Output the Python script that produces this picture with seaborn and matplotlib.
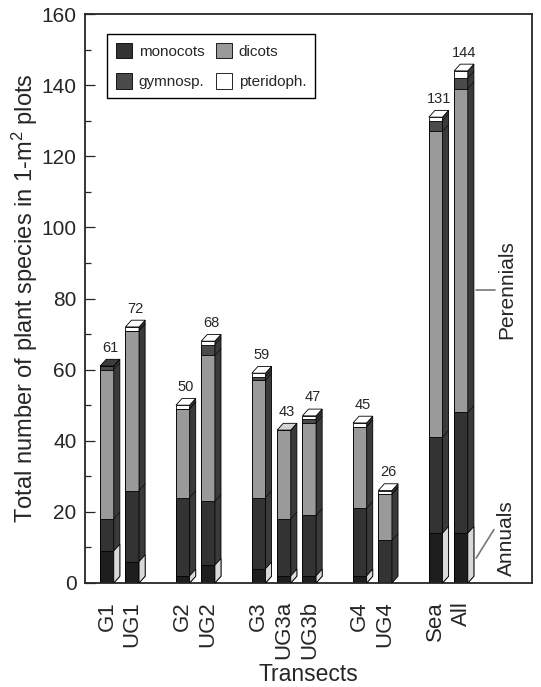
import matplotlib
matplotlib.use("Agg")
import matplotlib.pyplot as plt
from matplotlib.patches import Polygon, Patch
import numpy as np
import pandas as pd
import seaborn as sns

# species counts per transect (stack order bottom -> top)
transects = ['G1', 'UG1', 'G2', 'UG2', 'G3', 'UG3a', 'UG3b', 'G4', 'UG4', 'Sea', 'All']
positions = [0, 1, 3, 4, 6, 7, 8, 10, 11, 13, 14]
annuals = [9, 6, 2, 5, 4, 2, 2, 2, 0, 14, 14]
monocots = [9, 20, 22, 18, 20, 16, 17, 19, 12, 27, 34]
dicots = [42, 45, 25, 41, 33, 25, 26, 23, 13, 86, 91]
gymnosp = [1, 0, 0, 3, 1, 0, 1, 0, 0, 3, 3]
pteridoph = [0, 1, 1, 1, 1, 0, 1, 1, 1, 1, 2]

sns.set_style("ticks")
plt.rcParams['font.family'] = ['Liberation Sans', 'DejaVu Sans']
plt.rcParams['mathtext.default'] = 'regular'

layers = [
    ('annuals', annuals, '#1e1e1e', '#1e1e1e'),
    ('monocots', monocots, '#333333', '#333333'),
    ('dicots', dicots, '#9a9a9a', '#d4d4d4'),
    ('gymnosp.', gymnosp, '#4a4a4a', '#3c3c3c'),
    ('pteridoph.', pteridoph, '#ffffff', '#ffffff'),
]
cum = np.cumsum([l[1] for l in layers], axis=0)
totals = cum[-1]

fig = plt.figure(figsize=(5.41, 6.87), dpi=100)
ax = fig.add_axes([0.157, 0.1514, 0.826, 0.8282])

bar_w = 0.54
# front faces: draw cumulative heights from top layer down
for k in range(len(layers) - 1, -1, -1):
    df = pd.DataFrame({'pos': positions, 'value': cum[k]})
    sns.barplot(data=df, x='pos', y='value', native_scale=True, width=bar_w,
                color=layers[k][2], saturation=1, edgecolor='black',
                linewidth=0.6, errorbar=None, ax=ax, zorder=2)

# 3d side / top faces
dx, dy = 0.24, 1.9
for i, p in enumerate(positions):
    x1 = p + bar_w / 2
    top = totals[i]
    ax.add_patch(Polygon([(x1, 0), (x1 + dx, dy), (x1 + dx, top + dy), (x1, top)],
                         closed=True, fc='#3a3a3a', ec='black', lw=0.6, zorder=3))
    if annuals[i] > 0:
        a = annuals[i]
        ax.add_patch(Polygon([(x1, 0), (x1 + dx, dy), (x1 + dx, a + dy), (x1, a)],
                             closed=True, fc='#d9d9d9', ec='black', lw=0.6, zorder=3))
    for c in cum[1:-1, i]:
        ax.plot([x1, x1 + dx], [c, c + dy], color='black', lw=0.4, zorder=3)
    k_top = max(k for k in range(len(layers)) if layers[k][1][i] > 0)
    ax.add_patch(Polygon([(x1 - bar_w, top), (x1, top), (x1 + dx, top + dy), (x1 - bar_w + dx, top + dy)],
                         closed=True, fc=layers[k_top][3], ec='black', lw=0.6, zorder=3))
    ax.text(p + dx / 2, top + dy + 1.3, str(top), ha='center', va='bottom', fontsize=10.5)

# annotations
ax.plot([14.6, 15.35], [82.5, 82.5], color='#777777', lw=1.2)
ax.text(15.8, 82.5, 'Perennials', rotation=90, ha='center', va='center', fontsize=15)
ax.plot([14.6, 15.3], [7.0, 15.0], color='#777777', lw=1.2)
ax.text(15.8, 12.5, 'Annuals', rotation=90, ha='center', va='center', fontsize=15)

ax.set_xlim(-0.87, 16.8)
ax.set_ylim(0, 160)
ax.set_yticks(range(0, 161, 20))
ax.set_yticks(range(10, 160, 20), minor=True)
ax.tick_params(axis='y', which='major', direction='in', length=7, width=0.9, labelsize=15, pad=6)
ax.tick_params(axis='y', which='minor', direction='in', length=4, width=0.9)
ax.set_xticks(positions)
ax.set_xticklabels(transects, rotation=90, fontsize=16)
ax.tick_params(axis='x', length=0, pad=13)
for s in ax.spines.values():
    s.set_visible(True)
    s.set_linewidth(1.3)

ax.set_xlabel('Transects', fontsize=16.5, labelpad=3)
ax.set_ylabel('Total number of plant species in 1-m$^2$ plots', fontsize=17, labelpad=1)

handles = [Patch(fc=layers[k][2], ec='black', lw=0.6) for k in [1, 3, 2, 4]]
labels = [layers[k][0] for k in [1, 3, 2, 4]]
ax.legend(handles, labels, ncol=2, loc='upper left', bbox_to_anchor=(0.05, 0.965),
          borderaxespad=0, frameon=True, fancybox=False, edgecolor='black', framealpha=1,
          fontsize=11, handlelength=1.0, handleheight=1.15, handletextpad=0.45,
          columnspacing=0.8, labelspacing=0.95, borderpad=0.6)

fig.savefig('out.png', dpi=100)
